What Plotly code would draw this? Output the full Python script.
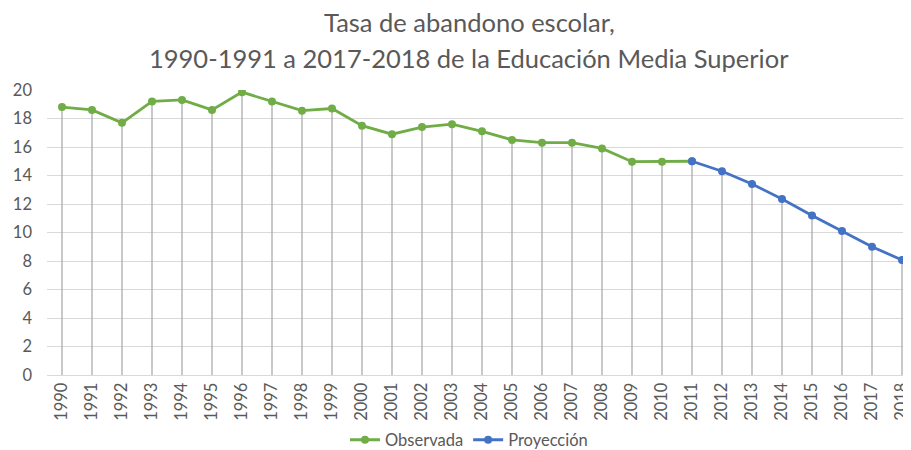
import plotly.graph_objects as go

years = [str(y) for y in range(1990, 2019)]
obs_years = [str(y) for y in range(1990, 2012)]
obs_values = [18.8, 18.6, 17.7, 19.2, 19.3, 18.6, 19.85, 19.2, 18.55, 18.7,
              17.5, 16.9, 17.4, 17.6, 17.1, 16.5, 16.3, 16.3, 15.9, 14.97,
              14.97, 15.0]
proj_years = [str(y) for y in range(2011, 2019)]
proj_values = [15.0, 14.3, 13.4, 12.35, 11.2, 10.1, 9.0, 8.07]

all_values = obs_values + proj_values[1:]

title_line1 = "Tasa de abandono escolar,"
title_line2 = "1990-1991 a 2017-2018 de la Educación Media Superior"

FONT = "Lato, 'Open Sans', sans-serif"
GRAY = "#595959"
GREEN = "#70AD47"
BLUE = "#4472C4"

fig = go.Figure()

# drop lines
fig.add_trace(go.Scatter(
    x=years, y=all_values, mode="markers",
    marker=dict(size=1, color="rgba(0,0,0,0)"),
    error_y=dict(type="data", symmetric=False, array=[0] * len(all_values),
                 arrayminus=all_values, width=0, thickness=1.2, color="#A5A5A5"),
    showlegend=False, hoverinfo="skip"))

fig.add_trace(go.Scatter(
    x=obs_years, y=obs_values, mode="lines+markers", name="Observada",
    line=dict(color=GREEN, width=2.8), marker=dict(color=GREEN, size=8)))

fig.add_trace(go.Scatter(
    x=proj_years, y=proj_values, mode="lines+markers", name="Proyección",
    line=dict(color=BLUE, width=2.8), marker=dict(color=BLUE, size=8)))

# the page body has an 8px margin; compensate so the view matches
OFF = 8
W, H = 911 - OFF, 450 - OFF
ml = 47 - OFF
mt = 90 - OFF
mb = H - (375 - OFF)
mr = 0
ph = H - mt - mb
pw = W - ml - mr

def px_to_paper_y(p):
    return (H - mb - (p - OFF)) / ph

def px_to_paper_x(p):
    return ((p - OFF) - ml) / pw

cx = px_to_paper_x(469)
fig.add_annotation(text=title_line1, x=cx, y=px_to_paper_y(22), xref="paper", yref="paper",
                   xanchor="center", yanchor="middle", showarrow=False,
                   font=dict(family=FONT, size=25.5, color=GRAY))
fig.add_annotation(text=title_line2, x=cx, y=px_to_paper_y(58), xref="paper", yref="paper",
                   xanchor="center", yanchor="middle", showarrow=False,
                   font=dict(family=FONT, size=25.5, color=GRAY))

fig.update_layout(
    width=W, height=H,
    margin=dict(l=ml, r=mr, t=mt, b=mb, autoexpand=False),
    plot_bgcolor="white", paper_bgcolor="white",
    font=dict(family=FONT, color=GRAY),
    legend=dict(orientation="h", x=cx, xanchor="center", y=px_to_paper_y(440),
                yanchor="middle", font=dict(family=FONT, size=16.5, color=GRAY),
                itemwidth=30, tracegroupgap=0),
    xaxis=dict(type="category", categoryorder="array", categoryarray=years,
               range=[-0.5, 28.3], tickangle=-90, showgrid=False, automargin=False,
               tickfont=dict(family=FONT, size=16.5, color=GRAY),
               showline=True, linecolor="#D9D9D9", linewidth=1, ticks=""),
    yaxis=dict(range=[0, 20], dtick=2, showgrid=True, gridcolor="#D9D9D9",
               gridwidth=1, zeroline=False, showline=False, automargin=False,
               tickfont=dict(family=FONT, size=16.5, color=GRAY), ticks="",
               ticklabelstandoff=14),
)

fig.write_html("out.html")
